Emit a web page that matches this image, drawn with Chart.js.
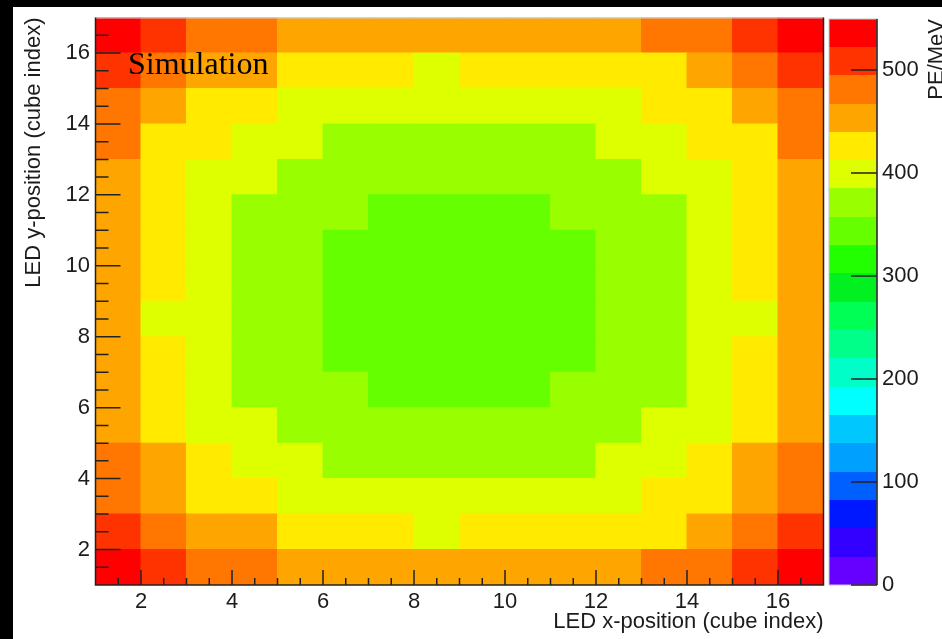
<!DOCTYPE html>
<html>
<head>
<meta charset="utf-8">
<script src="https://cdn.jsdelivr.net/npm/chart.js@4.4.0/dist/chart.umd.min.js"></script>
<style>
    html, body { margin: 0; padding: 0; background: #000; }
    #wrap { position: absolute; left: 13px; top: 7px; width: 929px; height: 632px; background: #fff; overflow: hidden; }
</style>
</head>
<body>
<div id="wrap"><canvas id="ledMap" width="929" height="632"></canvas></div>
<script>
// bins: LED position i covers [i, i+1]
const xBins = [1, 2, 3, 4, 5, 6, 7, 8, 9, 10, 11, 12, 13, 14, 15, 16];
const yBins = [1, 2, 3, 4, 5, 6, 7, 8, 9, 10, 11, 12, 13, 14, 15, 16];
const xTicks = [2, 4, 6, 8, 10, 12, 14, 16];
const yTicks = [2, 4, 6, 8, 10, 12, 14, 16];
const zTicks = [0, 100, 200, 300, 400, 500];

// PE/MeV per LED position, first row is y = 1 (bottom), last row y = 16 (top)
const peRows = [
    [536, 508, 481, 481, 453, 453, 453, 453, 453, 453, 453, 453, 481, 481, 508, 536],
    [508, 481, 453, 453, 426, 426, 426, 398, 426, 426, 426, 426, 426, 453, 481, 508],
    [481, 453, 426, 426, 398, 398, 398, 398, 398, 398, 398, 398, 426, 426, 453, 481],
    [481, 453, 426, 398, 398, 371, 371, 371, 371, 371, 371, 398, 398, 426, 453, 481],
    [453, 426, 398, 398, 371, 371, 371, 371, 371, 371, 371, 371, 398, 398, 426, 453],
    [453, 426, 398, 371, 371, 371, 344, 344, 344, 344, 371, 371, 371, 398, 426, 453],
    [453, 426, 398, 371, 371, 344, 344, 344, 344, 344, 344, 371, 371, 398, 426, 453],
    [453, 398, 398, 371, 371, 344, 344, 344, 344, 344, 344, 371, 371, 398, 398, 453],
    [453, 426, 398, 371, 371, 344, 344, 344, 344, 344, 344, 371, 371, 398, 426, 453],
    [453, 426, 398, 371, 371, 344, 344, 344, 344, 344, 344, 371, 371, 398, 426, 453],
    [453, 426, 398, 371, 371, 371, 344, 344, 344, 344, 371, 371, 371, 398, 426, 453],
    [453, 426, 398, 398, 371, 371, 371, 371, 371, 371, 371, 371, 398, 398, 426, 453],
    [481, 426, 426, 398, 398, 371, 371, 371, 371, 371, 371, 398, 398, 426, 426, 481],
    [481, 453, 426, 426, 398, 398, 398, 398, 398, 398, 398, 398, 426, 426, 453, 481],
    [508, 481, 453, 453, 426, 426, 426, 398, 426, 426, 426, 426, 426, 453, 481, 508],
    [536, 508, 481, 481, 453, 453, 453, 453, 453, 453, 453, 453, 481, 481, 508, 536]
];

// 20 contour colours, lowest first (ROOT rainbow)
const palette = [
    '#6600ff', '#3300ff', '#0018ff', '#0060ff', '#00a0ff',
    '#00c8ff', '#00ffff', '#00ffc8', '#00ff88', '#00ff55',
    '#00f020', '#22ff00', '#66ff00', '#99ff00', '#ddff00',
    '#ffea00', '#ffa500', '#ff7700', '#ff3300', '#ff0000'
];
const zMin = 0;
const zTop = 550;
const contourStep = (zTop - zMin) / palette.length;

const textColor = '#1c1c1c';
const axisFont = { family: 'Liberation Sans', size: 22 };

function peColor(v) {
    const k = Math.floor((v - zMin) / contourStep);
    return palette[Math.min(palette.length - 1, Math.max(0, k))];
}

function fixBox(size) {
    return scale => {
        if (scale.isHorizontal()) scale.height = size; else scale.width = size;
        scale.paddingTop = scale.paddingBottom = scale.paddingLeft = scale.paddingRight = 0;
    };
}

const datasets = peRows.map((row, r) => ({
    label: 'y = ' + yBins[r],
    data: row.map((v, c) => ({ x: xBins[c] + 0.5, y: [yBins[r], yBins[r] + 1], pe: v })),
    backgroundColor: row.map(peColor),
    borderWidth: 0,
    barPercentage: 1,
    categoryPercentage: 1,
    inflateAmount: 0.5,
    grouped: false
}));

const rootStyle = {
    id: 'rootStyle',
    afterDraw(chart) {
        const { ctx, chartArea: a, scales: { x, y, z } } = chart;
        ctx.save();

        // colour bar
        const barL = a.right + 5.5, barR = a.right + 53.5;
        palette.forEach((col, k) => {
            const top = Math.round(z.getPixelForValue(zMin + (k + 1) * contourStep));
            const bot = Math.round(z.getPixelForValue(zMin + k * contourStep));
            ctx.fillStyle = col;
            ctx.fillRect(barL, top, barR - barL, bot - top);
        });
        const barTop = Math.round(z.getPixelForValue(zTop));
        const barBot = Math.round(z.getPixelForValue(zMin));
        ctx.strokeStyle = '#c8c8c8';
        ctx.lineWidth = 1;
        ctx.strokeRect(barL, barTop, barR - barL, barBot - barTop);
        ctx.strokeStyle = '#222';
        ctx.lineWidth = 1.5;
        ctx.beginPath();
        ctx.moveTo(barR, barTop);
        ctx.lineTo(barR, barBot);
        zTicks.forEach(v => {
            const py = z.getPixelForValue(v);
            ctx.moveTo(barR, py);
            ctx.lineTo(barR - 26, py);
        });
        ctx.stroke();

        // frame
        ctx.strokeStyle = '#d0d0d0';
        ctx.lineWidth = 1;
        ctx.beginPath();
        ctx.moveTo(a.left, a.top + 0.5);
        ctx.lineTo(a.right, a.top + 0.5);
        ctx.stroke();
        ctx.strokeStyle = '#222';
        ctx.lineWidth = 1.5;
        ctx.beginPath();
        ctx.moveTo(a.left, a.top);
        ctx.lineTo(a.left, a.bottom);
        ctx.lineTo(a.right, a.bottom);
        ctx.lineTo(a.right, a.top);
        ctx.stroke();

        // ticks pointing inward, minor every 0.5
        ctx.beginPath();
        for (let v = 1.5; v < 17; v += 0.5) {
            const major = v % 2 === 0;
            const px = x.getPixelForValue(v);
            ctx.moveTo(px, a.bottom);
            ctx.lineTo(px, a.bottom - (major ? 15 : 7));
            const py = y.getPixelForValue(v);
            ctx.moveTo(a.left, py);
            ctx.lineTo(a.left + (major ? 25 : 13), py);
        }
        ctx.stroke();

        // z axis title
        ctx.fillStyle = textColor;
        ctx.font = '22px "Liberation Sans"';
        ctx.textAlign = 'right';
        ctx.textBaseline = 'alphabetic';
        ctx.translate(930, barTop);
        ctx.rotate(-Math.PI / 2);
        ctx.fillText('PE/MeV', 0, 0);
        ctx.restore();

        ctx.save();
        ctx.fillStyle = '#000';
        ctx.font = '32px "Liberation Serif"';
        ctx.textAlign = 'left';
        ctx.textBaseline = 'alphabetic';
        ctx.fillText('Simulation', 115, 67);
        ctx.restore();
    }
};

new Chart(document.getElementById('ledMap'), {
    type: 'bar',
    data: { datasets: datasets },
    options: {
        responsive: false,
        animation: false,
        events: [],
        layout: { padding: { top: 10.5, left: 0, right: 0, bottom: 0 } },
        plugins: { legend: { display: false }, tooltip: { enabled: false } },
        scales: {
            x: {
                type: 'linear', position: 'bottom', min: 1, max: 17, offset: false,
                grid: { display: false, drawTicks: false, offset: false },
                border: { display: false },
                afterBuildTicks: s => { s.ticks = xTicks.map(v => ({ value: v })); },
                ticks: { font: axisFont, color: textColor, padding: 4, maxRotation: 0, autoSkip: false },
                title: { display: true, text: 'LED x-position (cube index)', align: 'end', font: axisFont, color: textColor, padding: { top: 0, bottom: 4 } },
                afterFit: fixBox(54)
            },
            y: {
                type: 'linear', position: 'left', min: 1, max: 17, beginAtZero: false,
                grid: { display: false, drawTicks: false },
                border: { display: false },
                afterBuildTicks: s => { s.ticks = yTicks.map(v => ({ value: v })); },
                ticks: { font: axisFont, color: textColor, padding: 5.5, autoSkip: false },
                title: { display: true, text: 'LED y-position (cube index)', align: 'end', font: axisFont, color: textColor, padding: { top: 8, bottom: 0 } },
                afterFit: fixBox(82.5)
            },
            z: {
                type: 'linear', position: 'right', min: zMin, max: 551,
                grid: { display: false, drawTicks: false },
                border: { display: false },
                afterBuildTicks: s => { s.ticks = zTicks.map(v => ({ value: v })); },
                ticks: { font: axisFont, color: textColor, padding: 58.5, autoSkip: false },
                afterFit: fixBox(118.5)
            }
        }
    },
    plugins: [rootStyle]
});
</script>
</body>
</html>
